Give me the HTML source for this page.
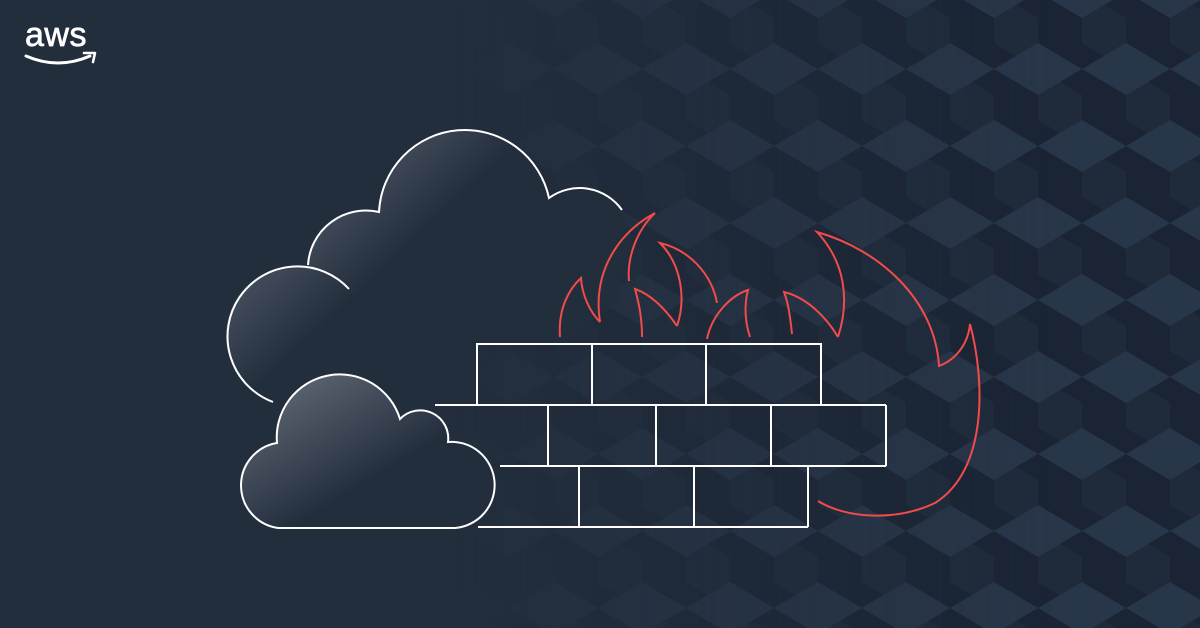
<!DOCTYPE html>
<html><head><meta charset="utf-8"><style>
html,body{margin:0;padding:0;background:#232e3d;}
svg{display:block}
</style></head><body>
<svg width="1200" height="628" viewBox="0 0 1200 628" xmlns="http://www.w3.org/2000/svg">
<defs>
<pattern id="cubes" width="88" height="154" patternUnits="userSpaceOnUse" patternTransform="translate(70,43)">
<rect width="88" height="154" fill="#1a2434"/>
<g fill="#1f2b3b">
<polygon points="-44,-51 0,-25 0,26 -44,0"/>
<polygon points="44,-51 88,-25 88,26 44,0"/>
<polygon points="0,26 44,52 44,103 0,77"/>
<polygon points="-44,103 0,129 0,180 -44,154"/>
<polygon points="44,103 88,129 88,180 44,154"/>
</g>
<g fill="#283649">
<polygon points="0,0 44,26 0,52 -44,26"/>
<polygon points="88,0 132,26 88,52 44,26"/>
<polygon points="44,77 88,103 44,129 0,103"/>
<polygon points="0,154 44,180 0,206 -44,180"/>
<polygon points="88,154 132,180 88,206 44,180"/>
<polygon points="44,-77 88,-51 44,-25 0,-51"/>
</g>
</pattern>
<linearGradient id="fade" x1="0" y1="0" x2="1200" y2="0" gradientUnits="userSpaceOnUse">
<stop offset="0.38" stop-color="#fff" stop-opacity="0"/>
<stop offset="0.6" stop-color="#fff" stop-opacity="0.5"/>
<stop offset="0.88" stop-color="#fff" stop-opacity="1"/>
</linearGradient>
<mask id="m"><rect width="1200" height="628" fill="url(#fade)"/></mask>
<linearGradient id="cg1" x1="235" y1="150" x2="470" y2="400" gradientUnits="userSpaceOnUse">
<stop offset="0" stop-color="#6a727e"/>
<stop offset="0.55" stop-color="#232e3d"/>
<stop offset="1" stop-color="#232e3d"/>
</linearGradient>
<linearGradient id="cg2" x1="0.05" y1="0.05" x2="0.6" y2="0.6">
<stop offset="0" stop-color="#646c78"/>
<stop offset="1" stop-color="#232e3d"/>
</linearGradient>
</defs>
<rect width="1200" height="628" fill="#232e3d"/>
<rect width="1200" height="628" fill="url(#cubes)" mask="url(#m)"/>

<!-- aws logo -->
<text x="25" y="46" font-family="Liberation Sans, sans-serif" font-size="34" fill="#fff" stroke="#fff" stroke-width="0.7" letter-spacing="0.5">aws</text>
<path d="M26,56 Q58,70 90,56" stroke="#fff" stroke-width="3" fill="none" stroke-linecap="round"/>
<path d="M84,53 L95,53 L93,62" stroke="#fff" stroke-width="2.6" fill="none" stroke-linecap="round" stroke-linejoin="round"/>

<!-- big cloud fill -->
<g fill="url(#cg1)">
<circle cx="296" cy="336" r="70"/>
<circle cx="365" cy="268" r="58"/>
<circle cx="464" cy="216" r="86"/>
<circle cx="579" cy="243" r="52"/>
<polygon points="300,300 620,240 620,300 560,344 477,344 477,405 435,405 290,405"/>
</g>
<path d="M273,402 A70,70 0 1 1 349,289" stroke="#fff" stroke-width="2" fill="none"/>
<path d="M308,265 A58,58 0 0 1 379,212 A86,86 0 0 1 549,198 A52,52 0 0 1 622,210" stroke="#fff" stroke-width="2" fill="none"/>

<!-- wall -->
<g stroke="#fff" stroke-width="2" fill="none">
<rect x="477" y="344" width="344" height="61"/>
<line x1="592" y1="344" x2="592" y2="405"/>
<line x1="706" y1="344" x2="706" y2="405"/>
<line x1="435" y1="405" x2="886" y2="405"/>
<line x1="886" y1="405" x2="886" y2="466"/>
<line x1="500" y1="466" x2="886" y2="466"/>
<line x1="548" y1="405" x2="548" y2="466"/>
<line x1="656" y1="405" x2="656" y2="466"/>
<line x1="771" y1="405" x2="771" y2="466"/>
<line x1="478" y1="527" x2="808" y2="527"/>
<line x1="808" y1="466" x2="808" y2="527"/>
<line x1="579" y1="466" x2="579" y2="527"/>
<line x1="694" y1="466" x2="694" y2="527"/>
</g>

<!-- small cloud -->
<path d="M277,443 A63,63 0 0 1 400,419 A28,28 0 0 1 448,442 A43,43 0 0 1 455,528 L278,528 A43,43 0 0 1 277,443 Z" fill="url(#cg2)" stroke="#fff" stroke-width="2"/>

<!-- flames -->
<g stroke="#f24b4b" stroke-width="2" fill="none" stroke-linejoin="miter">
<path d="M560,337 C558,310 568,290 581,278 C582,295 590,312 600,322"/>
<path d="M600,322 C592,270 620,232 655,213 C635,232 627,260 629,281"/>
<path d="M642,337 C642,315 638,300 635,289 C652,295 666,310 677,326"/>
<path d="M677,326 C686,300 682,265 660,243 C690,250 712,275 717,303"/>
<path d="M707,339 C712,315 730,296 748,290 C744,305 745,322 750,337"/>
<path d="M792,334 C790,315 788,302 784,292 C805,297 825,315 838,337"/>
<path d="M838,337 C850,300 845,262 817,232 C880,250 935,300 939,366 C955,360 968,345 970,324 C985,380 988,470 935,503 C895,522 845,518 818,501"/>
</g>
</svg>
</body></html>
